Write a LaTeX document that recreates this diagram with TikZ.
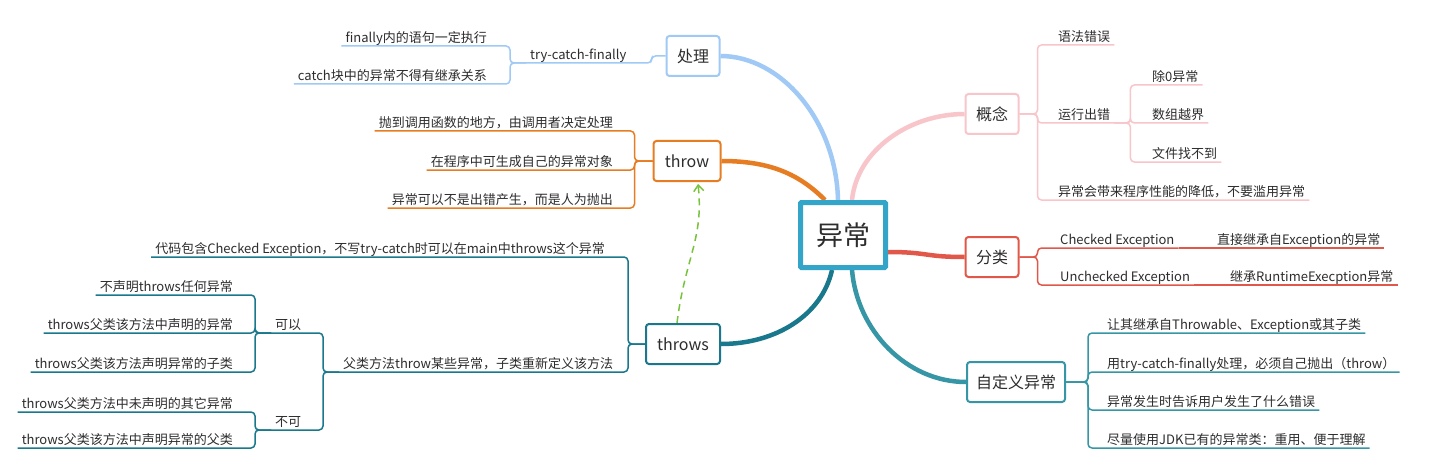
\documentclass[tikz,border=0pt]{standalone}
\usepackage{fontspec}
\setmainfont{Noto Sans CJK SC}
\usetikzlibrary{backgrounds,arrows.meta}
\definecolor{rootc}{RGB}{50,165,200}
\definecolor{clc}{RGB}{160,202,245}
\definecolor{thc}{RGB}{230,125,35}
\definecolor{tsc}{RGB}{25,120,140}
\definecolor{gnc}{RGB}{248,198,202}
\definecolor{flc}{RGB}{225,88,75}
\definecolor{zdc}{RGB}{55,150,165}
\definecolor{dashc}{RGB}{120,195,60}
\definecolor{txtc}{RGB}{45,45,45}
\tikzstyle{root}=[draw=rootc,line width=5pt,fill=white,rounded corners=1pt,minimum width=85pt,minimum height=65pt,font=\fontsize{27}{30}\selectfont,text=txtc]
\tikzstyle{topic}=[draw,line width=2pt,fill=white,rounded corners=3pt,minimum width=53pt,minimum height=40pt,inner xsep=9pt,font=\fontsize{16}{19}\selectfont,text=txtc]
\tikzstyle{sub}=[inner xsep=4pt,inner ysep=1pt,text height=10pt,text depth=2.5pt,font=\fontsize{13}{15}\selectfont,text=txtc]
\tikzstyle{link}=[line width=1.5pt,rounded corners=4pt]
\tikzstyle{arm}=[line width=4.5pt]

\begin{document}
\begin{tikzpicture}[x=1pt,y=-1pt]
\useasboundingbox (0,0) rectangle (1429,476);
\node (ex) [root] at (843,235) {异常};
\node (chuli) [topic,draw=clc] at (693,56) {处理};
\node (throw) [topic,draw=thc,minimum width=67pt] at (687,161) {throw};
\node (throws) [topic,draw=tsc,minimum width=74pt] at (683,344) {throws};
\node (gainian) [topic,draw=gnc] at (992,114) {概念};
\node (fenlei) [topic,draw=flc] at (992,257) {分类};
\node (zdy) [topic,draw=zdc] at (1016,382) {自定义异常};

\node (cl1) [sub,anchor=south west] at (526,63) {try-catch-finally};
\node (cl11) [sub,anchor=south east] at (491,46) {finally内的语句一定执行};
\node (cl12) [sub,anchor=south east] at (491,84) {catch块中的异常不得有继承关系};

\node (th1) [sub,anchor=south east] at (617,131) {抛到调用函数的地方，由调用者决定处理};
\node (th2) [sub,anchor=south east] at (617,170) {在程序中可生成自己的异常对象};
\node (th3) [sub,anchor=south east] at (617,208) {异常可以不是出错产生，而是人为抛出};

\node (ts1) [sub,anchor=south east] at (609,257) {代码包含Checked Exception，不写try-catch时可以在main中throws这个异常};
\node (ts2) [sub,anchor=south west] at (339,372) {父类方法throw某些异常，子类重新定义该方法};
\node (ky) [sub,anchor=south west] at (271,333) {可以};
\node (bk) [sub,anchor=south west] at (271,430) {不可};
\node (k1) [sub,anchor=south east] at (237,295) {不声明throws任何异常};
\node (k2) [sub,anchor=south east] at (237,333) {throws父类该方法中声明的异常};
\node (k3) [sub,anchor=south east] at (237,372) {throws父类该方法声明异常的子类};
\node (b1) [sub,anchor=south east] at (237,412) {throws父类方法中未声明的其它异常};
\node (b2) [sub,anchor=south east] at (237,448) {throws父类该方法中声明异常的父类};

\node (gn1) [sub,anchor=south west] at (1054,45) {语法错误};
\node (gn2) [sub,anchor=south west] at (1054,123) {运行出错};
\node (gn21) [sub,anchor=south west] at (1148,85) {除0异常};
\node (gn22) [sub,anchor=south west] at (1148,123) {数组越界};
\node (gn23) [sub,anchor=south west] at (1148,162) {文件找不到};
\node (gn3) [sub,anchor=south west] at (1054,200) {异常会带来程序性能的降低，不要滥用异常};

\node (fl1) [sub,anchor=south west] at (1056,248) {Checked Exception};
\node (fl11) [sub,anchor=south west] at (1213,248) {直接继承自Exception的异常};
\node (fl2) [sub,anchor=south west] at (1056,285) {Unchecked Exception};
\node (fl21) [sub,anchor=south west] at (1226,285) {继承RuntimeExecption异常};

\node (z1) [sub,anchor=south west] at (1103,333) {让其继承自Throwable、Exception或其子类};
\node (z2) [sub,anchor=south west] at (1103,372) {用try-catch-finally处理，必须自己抛出（throw）};
\node (z3) [sub,anchor=south west] at (1103,410) {异常发生时告诉用户发生了什么错误};
\node (z4) [sub,anchor=south west] at (1103,448) {尽量使用JDK已有的异常类：重用、便于理解};

\draw [link,clc] (chuli.west) -- ++(-14,0) |- (cl1.south west);
\draw [link,clc] (cl1.south west) -- ++(-16,0) |- (cl11.south west);
\draw [link,clc] (cl1.south west) -- ++(-16,0) |- (cl12.south west);
\foreach \n in {th1,th2,th3}
  \draw [link,thc] (throw.west) -- ++(-18,0) |- (\n.south west);
\foreach \n in {ts1,ts2}
  \draw [link,tsc] (throws.west) -- ++(-17,0) |- (\n.south west);
\foreach \n in {ky,bk}
  \draw [link,tsc] (ts2.south west) -- ++(-16,0) |- (\n.south west);
\foreach \n in {k1,k2,k3}
  \draw [link,tsc] (ky.south west) -- ++(-16,0) |- (\n.south west);
\foreach \n in {b1,b2}
  \draw [link,tsc] (bk.south west) -- ++(-16,0) |- (\n.south west);
\foreach \n in {gn1,gn2,gn3}
  \draw [link,gnc] (gainian.east) -- ++(18,0) |- (\n.south east);
\foreach \n in {gn21,gn22,gn23}
  \draw [link,gnc] (gn2.south east) -- ++(16,0) |- (\n.south east);
\foreach \n in {fl1,fl2}
  \draw [link,flc] (fenlei.east) -- ++(18,0) |- (\n.south east);
\draw [link,flc] (fl1.south east) -- (fl11.south east);
\draw [link,flc] (fl2.south east) -- (fl21.south east);
\foreach \n in {z1,z2,z3,z4}
  \draw [link,zdc] (zdy.east) -- ++(22,0) |- (\n.south east);

\begin{scope}[on background layer]
\fill [white] (0,0) rectangle (1429,476);
\draw [arm,clc] ([xshift=-5pt]ex.north) .. controls +(-2,-80) and +(60,0) .. (chuli.east);
\draw [arm,thc] ([xshift=-18pt]ex.north) .. controls +(-25,-25) and +(50,0) .. (throw.east);
\draw [arm,tsc] ([xshift=-11pt]ex.south) .. controls +(-10,45) and +(55,0) .. (throws.east);
\draw [arm,gnc] ([xshift=9pt]ex.north) .. controls +(5,-50) and +(-55,0) .. (gainian.west);
\draw [arm,flc] ([yshift=-17pt]ex.east) .. controls +(40,0) and +(-40,0) .. (fenlei.west);
\draw [arm,zdc] ([xshift=9pt]ex.south) .. controls +(5,60) and +(-60,0) .. (zdy.west);
\draw [dashc,line width=1.5pt,dash pattern=on 7pt off 5pt,-{Straight Barb[length=6pt,width=10pt]}] ([xshift=-6pt]throws.north) .. controls +(8,-65) and +(6,55) .. ([xshift=11pt,yshift=-2pt]throw.south);
\end{scope}
\end{tikzpicture}
\end{document}
